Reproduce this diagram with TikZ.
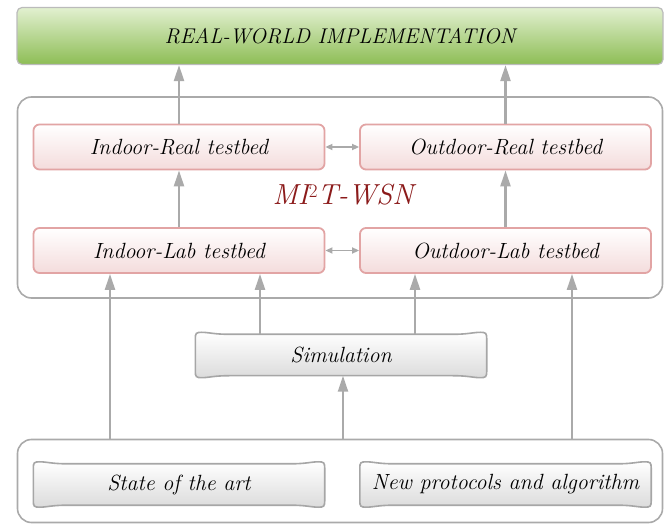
\documentclass[tikz,border=0pt]{standalone}
\usetikzlibrary{calc,arrows.meta}
\definecolor{arr}{HTML}{AAAAAA}
\definecolor{mired}{HTML}{8B1A1A}
\definecolor{pinkline}{HTML}{E2A4A4}
\definecolor{pinkfill}{HTML}{F4DCDC}
\definecolor{greentop}{HTML}{E2F0D0}
\definecolor{greenbot}{HTML}{8DBD55}
\tikzset{
  every node/.style={font=\fontsize{22}{26}\selectfont\itshape, inner sep=0pt},
  outerbox/.style={draw=arr, line width=1.6pt, rounded corners=14pt, fill=white},
  greenbox/.style={draw=arr!80, line width=1.2pt, rounded corners=5pt, top color=greentop, bottom color=greenbot},
  pinkbox/.style={draw=pinkline, line width=1.8pt, rounded corners=6pt, top color=white, bottom color=pinkfill},
  labelbox/.style={minimum width=291pt, minimum height=45pt},
  flare/.style={draw=gray!70, line width=1.6pt, top color=white, bottom color=gray!28},
  uparr/.style={draw=arr, line width=2.2pt, -{Triangle[width=10pt,length=16pt]}},
  duo/.style={draw=arr, line width=1.6pt, {Triangle[width=6pt,length=7pt]}-{Triangle[width=6pt,length=7pt]}},
}
\newcommand\flarebox[1]{%
  \path[flare] let \p1=(#1.north west), \p2=(#1.south east) in
    (\x1,{\y1-6pt}) .. controls (\x1,{\y1-1pt}) and ({\x1+1pt},\y1) .. ({\x1+6pt},\y1)
    .. controls ({\x1+14pt},\y1) and ({\x1+18pt},{\y1-2pt}) .. ({\x1+34pt},{\y1-2pt})
    -- ({\x2-34pt},{\y1-2pt})
    .. controls ({\x2-18pt},{\y1-2pt}) and ({\x2-14pt},\y1) .. ({\x2-6pt},\y1)
    .. controls ({\x2-1pt},\y1) and (\x2,{\y1-1pt}) .. (\x2,{\y1-6pt})
    -- (\x2,{\y2+6pt})
    .. controls (\x2,{\y2+1pt}) and ({\x2-1pt},\y2) .. ({\x2-6pt},\y2)
    .. controls ({\x2-14pt},\y2) and ({\x2-18pt},{\y2+2pt}) .. ({\x2-34pt},{\y2+2pt})
    -- ({\x1+34pt},{\y2+2pt})
    .. controls ({\x1+18pt},{\y2+2pt}) and ({\x1+14pt},\y2) .. ({\x1+6pt},\y2)
    .. controls ({\x1+1pt},\y2) and (\x1,{\y2+1pt}) .. (\x1,{\y2+6pt}) -- cycle;}
\begin{document}
\begin{tikzpicture}[x=1pt,y=-1pt]
\useasboundingbox (0,0) rectangle (667,526);
% outer frames
\node[outerbox, minimum width=645pt, minimum height=201pt] (mid) at (340,197.5) {};
\node[outerbox, minimum width=645pt, minimum height=83pt] (bot) at (340,481) {};
% top
\node[greenbox, minimum width=646pt, minimum height=57pt, font=\fontsize{21.3}{25}\selectfont\itshape] (real) at (340,36) {REAL-WORLD IMPLEMENTATION};
% pink boxes
\node[pinkbox, labelbox] (ir) at (179,147) {Indoor-Real testbed};
\node[pinkbox, labelbox] (or) at (505.5,147) {Outdoor-Real testbed};
\node[pinkbox, labelbox] (il) at (179,250.5) {Indoor-Lab testbed};
\node[pinkbox, labelbox] (ol) at (505.5,250.5) {Outdoor-Lab testbed};
\node[font=\fontsize{29}{32}\selectfont\itshape, text=mired] (mi) at (343,195) {MI\raisebox{0.62ex}{\fontsize{19}{20}\selectfont\upshape 2}T-WSN};
% gray boxes
\node[labelbox] (sim) at (341,355) {};
\flarebox{sim}
\node at (sim) {Simulation};
\node[labelbox] (sota) at (179,484.5) {};
\flarebox{sota}
\node at (sota) {State of the art};
\node[labelbox] (np) at (505.5,484.5) {};
\flarebox{np}
\node at (np) {New protocols and algorithm};
% arrows
\draw[uparr] (ir.north) -- (real.south -| ir.north);
\draw[uparr] (or.north) -- (real.south -| or.north);
\draw[uparr] (il.north) -- (ir.south);
\draw[uparr] (ol.north) -- (or.south);
\draw[duo] (ir.east) -- (or.west);
\draw[duo] (il.east) -- (ol.west);
\coordinate (b1) at (110,0);
\coordinate (b2) at (572,0);
\coordinate (s1) at (260,0);
\coordinate (s2) at (415,0);
\coordinate (s3) at (343,0);
\draw[uparr] (bot.north -| b1) -- (il.south -| b1);
\draw[uparr] (bot.north -| b2) -- (ol.south -| b2);
\draw[uparr] (bot.north -| s3) -- ($(sim.south -| s3)+(0,-2)$);
\draw[uparr] ($(sim.north -| s1)+(0,2)$) -- (il.south -| s1);
\draw[uparr] ($(sim.north -| s2)+(0,2)$) -- (ol.south -| s2);
\end{tikzpicture}
\end{document}
